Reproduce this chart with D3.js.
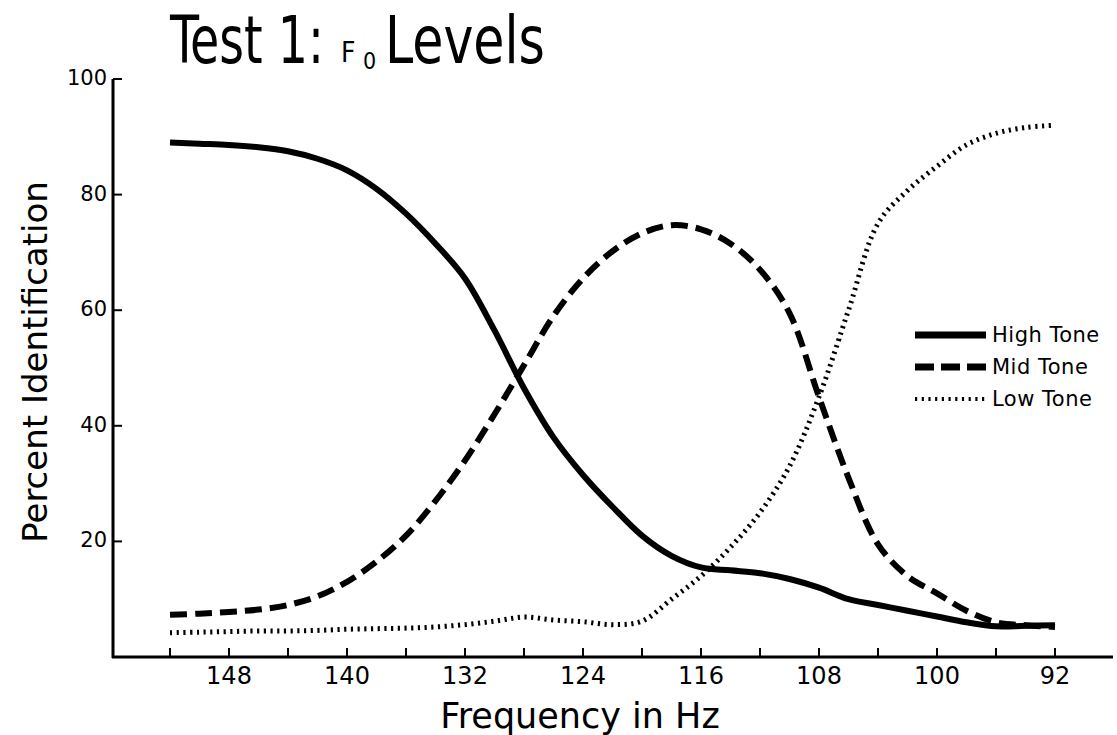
<!DOCTYPE html>
<html>
<head>
<meta charset="utf-8">
<script src="https://cdn.jsdelivr.net/npm/d3@7"></script>
<style>
    body { margin: 0; background: #fff; }
    svg { display: block; }
    text { fill: #000; font-family: "DejaVu Sans", sans-serif; }
</style>
</head>
<body>
<div id="chart"></div>
<script>
// data
var frequencies = [152, 150, 148, 146, 144, 142, 140, 138, 136, 134, 132, 130, 128, 126, 124, 122,
    120, 118, 116, 114, 112, 110, 108, 106, 104, 102, 100, 98, 96, 94, 92];
var highTone = [89, 88.8, 88.6, 88.2, 87.5, 86.2, 84.2, 81, 76.7, 71.5, 65.5, 56.5, 46.5, 38, 31.5, 26,
    21, 17.5, 15.5, 15, 14.5, 13.5, 12, 10, 9, 8, 7, 6, 5.3, 5.4, 5.5];
var midTone = [7.3, 7.5, 7.8, 8.2, 9, 10.5, 13, 16.5, 21, 27, 34, 42, 50.5, 59, 65.5, 70.2,
    73.3, 74.7, 74, 71.5, 67, 59.5, 45, 31, 19.5, 14, 11, 8, 6, 5.5, 5.2];
var lowTone = [4.2, 4.3, 4.4, 4.5, 4.5, 4.6, 4.8, 4.9, 5, 5.2, 5.6, 6.2, 6.9, 6.4, 6.1, 5.6,
    6.2, 10, 14, 19, 25, 33, 45, 60, 75, 80.7, 84.9, 88.6, 90.6, 91.6, 92];
var seriesNames = ["High Tone", "Mid Tone", "Low Tone"];
var xTicks = [152, 148, 144, 140, 136, 132, 128, 124, 120, 116, 112, 108, 104, 100, 96, 92];
var xTickLabels = [148, 140, 132, 124, 116, 108, 100, 92];
var yTicks = [20, 40, 60, 80, 100];

var width = 1117;
var height = 735;

var svg = d3.select("#chart")
    .append("svg")
    .attr("width", width)
    .attr("height", height);

var x = d3.scaleLinear().domain([152, 92]).range([170, 1055]);
var y = d3.scaleLinear().domain([0, 100]).range([657, 79]);

var styles = [
    { width: 6, dash: null },
    { width: 6, dash: "17,8" },
    { width: 5, dash: "2.2,4.5" }
];

// title: big words squeezed to the width of the original lettering
var narrow = "'Liberation Sans Narrow', 'DejaVu Sans Condensed', sans-serif";
function squeezedText(str, left, base, size, targetWidth) {
    var t = svg.append("text")
        .style("font-family", narrow)
        .style("font-size", size + "px")
        .text(str);
    var k = Math.min(1, targetWidth / t.node().getComputedTextLength());
    t.attr("transform", `translate(${left},${base}) scale(${k},1)`);
    return t;
}
squeezedText("Test 1:", 170, 63, 66, 154);
squeezedText("Levels", 385, 63, 66, 160);

var f0 = svg.append("text")
    .attr("x", 341).attr("y", 62)
    .style("font-family", narrow)
    .style("font-size", "28px");
f0.append("tspan").text("F");
f0.append("tspan")
    .attr("x", 363).attr("dy", 7)
    .style("font-size", "23px")
    .text("0");

// axes
svg.append("line")
    .attr("x1", 113).attr("x2", 113)
    .attr("y1", y(100)).attr("y2", y(0) + 1)
    .attr("stroke", "#000").attr("stroke-width", 3);
svg.append("line")
    .attr("x1", 112).attr("x2", 1113)
    .attr("y1", y(0)).attr("y2", y(0))
    .attr("stroke", "#000").attr("stroke-width", 3);

svg.selectAll(".ytick")
    .data(yTicks)
    .enter()
    .append("line")
    .attr("x1", 113).attr("x2", 122)
    .attr("y1", d => y(d)).attr("y2", d => y(d))
    .attr("stroke", "#000").attr("stroke-width", 2);

svg.selectAll(".ylabel")
    .data(yTicks)
    .enter()
    .append("text")
    .attr("x", 107)
    .attr("y", d => y(d))
    .attr("text-anchor", "end")
    .attr("dominant-baseline", "middle")
    .style("font-size", "21px")
    .text(d => d);

svg.selectAll(".xtick")
    .data(xTicks)
    .enter()
    .append("line")
    .attr("x1", d => x(d)).attr("x2", d => x(d))
    .attr("y1", y(0)).attr("y2", y(0) - 9)
    .attr("stroke", "#000").attr("stroke-width", 2);

svg.selectAll(".xlabel")
    .data(xTickLabels)
    .enter()
    .append("text")
    .attr("x", d => x(d))
    .attr("y", 684)
    .attr("text-anchor", "middle")
    .style("font-size", "24px")
    .text(d => d);

// axis titles
svg.append("text")
    .attr("x", 580)
    .attr("y", 728)
    .attr("text-anchor", "middle")
    .style("font-size", "35px")
    .text("Frequency in Hz");

svg.append("text")
    .attr("transform", "translate(47,362) rotate(-90)")
    .attr("text-anchor", "middle")
    .style("font-size", "34px")
    .text("Percent Identification");

// curves
var line = d3.line()
    .x((d, i) => x(frequencies[i]))
    .y(d => y(d))
    .curve(d3.curveCatmullRom.alpha(0.5));

[highTone, midTone, lowTone].forEach((values, i) => {
    svg.append("path")
        .attr("d", line(values))
        .attr("fill", "none")
        .attr("stroke", "#000")
        .attr("stroke-width", styles[i].width)
        .attr("stroke-dasharray", styles[i].dash);
});

// legend
var legend = svg.append("g");
seriesNames.forEach((name, i) => {
    var ly = 335 + i * 32;
    legend.append("line")
        .attr("x1", 915).attr("x2", 986)
        .attr("y1", ly).attr("y2", ly)
        .attr("stroke", "#000")
        .attr("stroke-width", i == 2 ? 4 : 7)
        .attr("stroke-dasharray", i == 1 ? "19,7" : styles[i].dash);
    legend.append("text")
        .attr("x", 992)
        .attr("y", ly + 7)
        .style("font-size", "21px")
        .style("letter-spacing", "0.5px")
        .text(name);
});
</script>
</body>
</html>
